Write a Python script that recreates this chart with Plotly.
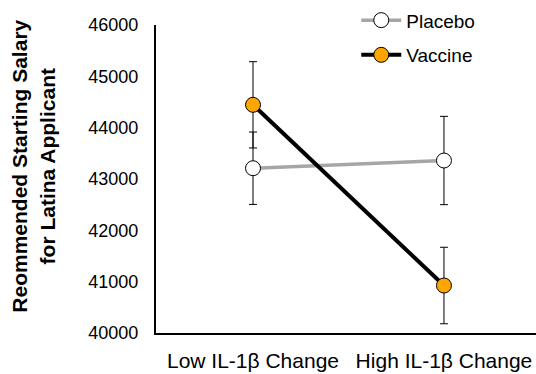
import plotly.graph_objects as go

categories = ["Low IL-1β Change", "High IL-1β Change"]
placebo = [43210, 43360]
placebo_err = [705, 860]
vaccine = [44445, 40925]
vaccine_err = [840, 745]
ytick_vals = [40000, 41000, 42000, 43000, 44000, 45000, 46000]

FONT = "Liberation Sans, Arial, sans-serif"

fig = go.Figure()
fig.add_trace(go.Scatter(
    x=categories, y=placebo, name="Placebo", mode="lines+markers",
    line=dict(color="#A6A6A6", width=3.5),
    marker=dict(symbol="circle", size=15, color="white", line=dict(color="black", width=1)),
    error_y=dict(type="data", array=placebo_err, visible=True, color="black", thickness=1, width=4),
    legendgroup="p",
))
fig.add_trace(go.Scatter(
    x=categories, y=vaccine, name="Vaccine", mode="lines+markers",
    line=dict(color="black", width=4),
    marker=dict(symbol="circle", size=15, color="#FFA500", line=dict(color="black", width=1)),
    error_y=dict(type="data", array=vaccine_err, visible=True, color="black", thickness=1, width=4),
    legendgroup="v",
))

fig.update_layout(
    width=536, height=374,
    margin=dict(l=156, r=0, t=25, b=41),
    paper_bgcolor="white", plot_bgcolor="white",
    font=dict(family=FONT, color="black"),
    showlegend=True,
    legend=dict(
        x=0.527, y=1.077, xanchor="left", yanchor="top",
        font=dict(size=19, family=FONT, color="black"),
        bgcolor="rgba(0,0,0,0)", tracegroupgap=7, itemwidth=40,
    ),
    xaxis=dict(
        type="category", range=[-0.508, 1.482],
        showline=True, linecolor="black", linewidth=2,
        showgrid=False, zeroline=False, ticks="",
        tickfont=dict(size=21, family=FONT, color="black"),
        ticklabelstandoff=8,
    ),
    yaxis=dict(
        range=[40000, 46000], tickvals=ytick_vals, tickformat="d",
        showline=True, linecolor="black", linewidth=2,
        showgrid=False, zeroline=False, ticks="",
        tickfont=dict(size=18, family=FONT, color="black"),
        ticklabelstandoff=12,
    ),
    annotations=[dict(
        text="<b>Reommended Starting Salary<br>for Latina Applicant</b>",
        textangle=-90, xref="paper", yref="paper",
        x=(33 - 156) / 380, y=0.54, xanchor="center", yanchor="middle",
        showarrow=False, font=dict(size=21, family=FONT, color="black"),
    )],
)

fig.write_html("out.html", config={"displayModeBar": False},
               post_script="document.body.style.margin='0';")
